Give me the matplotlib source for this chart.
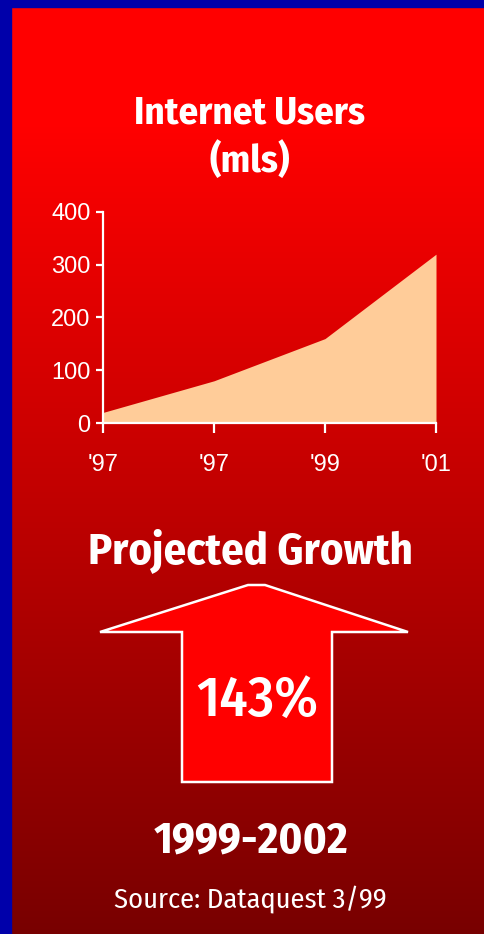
import numpy as np
import matplotlib
matplotlib.use("Agg")
import matplotlib.pyplot as plt
from matplotlib.patches import Polygon, Rectangle
from matplotlib import font_manager

# Data: internet users in millions
years = ["'97", "'97", "'99", "'01"]
users = [20, 80, 160, 320]
y_ticks = [0, 100, 200, 300, 400]
growth_label = "143%"
period_label = "1999-2002"

W, H = 485, 934
DPI = 100


def pick_narrow_family():
    by_name = {}
    for f in font_manager.fontManager.ttflist:
        if f.style == "normal" and "[" not in f.fname:
            by_name.setdefault(f.name, set()).add(f.weight)
    for cand in ["Liberation Sans Narrow", "Fira Sans Condensed", "Roboto Condensed",
                 "PT Sans Narrow", "Barlow Semi Condensed", "Asap Condensed"]:
        w = by_name.get(cand, set())
        if 400 in w and 700 in w:
            return cand
    return "Liberation Sans"


narrow = pick_narrow_family()
NARROW = [narrow, "DejaVu Sans"]
REG = ["Liberation Sans", "DejaVu Sans"]

fig = plt.figure(figsize=(W / DPI, H / DPI), dpi=DPI)


def fx(px):
    return px / W


def fy(py):
    return 1 - py / H


# Background: blue frame and vertical red gradient
bg = fig.add_axes([0, 0, 1, 1])
bg.set_xlim(0, W)
bg.set_ylim(H, 0)
bg.axis("off")
rows = np.arange(H)
red = np.where(rows < 120, 255, 255 - (rows - 120) * (135 / (H - 120)))
grad = np.zeros((H, 1, 3))
grad[:, 0, 0] = red / 255
bg.imshow(grad, extent=[11, W, H, 7], aspect="auto", interpolation="bilinear", zorder=0)
bg.add_patch(Rectangle((0, 0), W, 7, color="#0000AA", zorder=1))
bg.add_patch(Rectangle((0, 0), 11, H, color="#0000AA", zorder=1))

# Title
fig.text(fx(250), fy(123), "Internet Users", ha="center", va="baseline",
         color="white", fontsize=28, fontweight="bold", family=NARROW)
fig.text(fx(250), fy(172), "(mls)", ha="center", va="baseline",
         color="white", fontsize=28, fontweight="bold", family=NARROW)

# Area chart
ax = fig.add_axes([fx(103), fy(423), fx(436) - fx(103), fy(212) - fy(423)])
ax.patch.set_alpha(0)
x = np.arange(len(years))
ax.fill_between(x, users, 0, color="#FFCC99", linewidth=0, zorder=2)
ax.set_xlim(0, len(years) - 1)
ax.set_ylim(0, 400)
ax.set_xticks(x)
ax.set_xticklabels(years)
ax.set_yticks(y_ticks)
for s in ("top", "right"):
    ax.spines[s].set_visible(False)
for s in ("left", "bottom"):
    ax.spines[s].set_color("white")
    ax.spines[s].set_linewidth(1.6)
    ax.spines[s].set_zorder(3)
ax.tick_params(axis="y", colors="white", length=5, width=1.6, pad=4, labelsize=17)
ax.tick_params(axis="x", colors="white", length=7, width=1.6, pad=15, labelsize=17)
for lab in ax.get_xticklabels() + ax.get_yticklabels():
    lab.set_family(REG)

# Growth arrow
fig.text(fx(250), fy(563), "Projected Growth", ha="center", va="baseline",
         color="white", fontsize=32, fontweight="bold", family=NARROW)
arrow_px = [(248, 585), (265, 585), (408, 632), (332, 632), (332, 782),
            (182, 782), (182, 632), (100, 632)]
arrow = Polygon([(fx(a), fy(b)) for a, b in arrow_px], closed=True,
                transform=fig.transFigure, facecolor="#FF0000",
                edgecolor="white", linewidth=1.8, zorder=5)
fig.patches.append(arrow)
fig.text(fx(257), fy(716), growth_label, ha="center", va="baseline",
         color="white", fontsize=41, fontweight="medium", family=NARROW, zorder=6)

# Period and source
fig.text(fx(251), fy(853), period_label, ha="center", va="baseline",
         color="white", fontsize=32, fontweight="bold", family=NARROW)
fig.text(fx(250), fy(907), "Source: Dataquest 3/99", ha="center", va="baseline",
         color="white", fontsize=20.5, family=NARROW)

fig.savefig("out.png", dpi=DPI)
